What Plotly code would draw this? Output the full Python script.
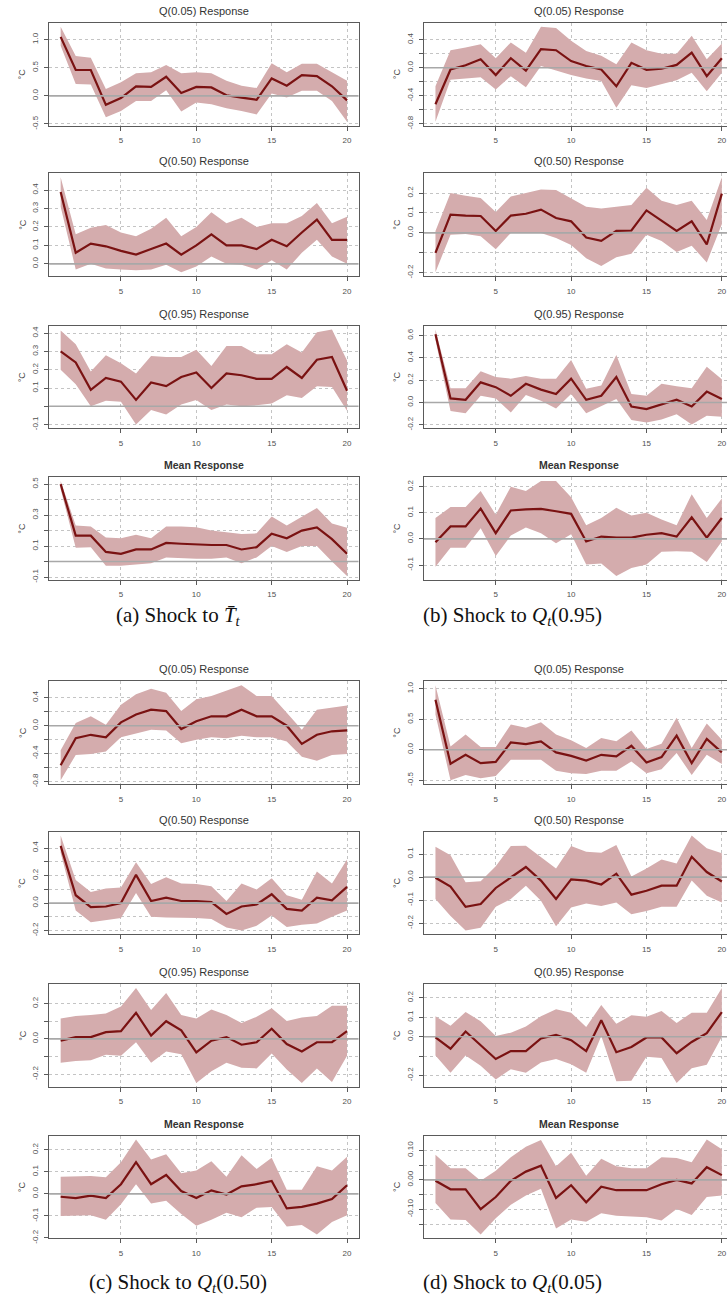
import plotly.graph_objects as go

W, H = 727, 1310

horizon = [1, 2, 3, 4, 5, 6, 7, 8, 9, 10, 11, 12, 13, 14, 15, 16, 17, 18, 19, 20]
x_tickvals = [5, 10, 15, 20]
x_ticktext = ["5", "10", "15", "20"]

panel_titles = ["Q(0.05) Response", "Q(0.50) Response", "Q(0.95) Response", "Mean Response"]
captions = [
    "(a) Shock to <i>T\u0304</i><sub><i>t</i></sub>",
    "(b) Shock to <i>Q</i><sub><i>t</i></sub>(0.95)",
    "(c) Shock to <i>Q</i><sub><i>t</i></sub>(0.50)",
    "(d) Shock to <i>Q</i><sub><i>t</i></sub>(0.05)",
]

# ---------------- (a) Shock to T-bar ----------------
a_q05_irf = [1.05, 0.46, 0.46, -0.16, -0.04, 0.17, 0.16, 0.34, 0.05, 0.16, 0.15, 0.01, -0.03, -0.07, 0.31, 0.18, 0.37, 0.35, 0.17, -0.08]
a_q05_hi = [1.23, 0.71, 0.68, 0.12, 0.24, 0.40, 0.42, 0.55, 0.40, 0.42, 0.40, 0.27, 0.18, 0.14, 0.58, 0.42, 0.57, 0.57, 0.42, 0.27]
a_q05_lo = [0.89, 0.21, 0.20, -0.38, -0.27, -0.09, -0.09, 0.10, -0.28, -0.12, -0.15, -0.22, -0.27, -0.33, 0.04, -0.03, 0.09, 0.09, -0.09, -0.46]
a_q05_ticks = [-0.5, 0.0, 0.5, 1.0]
a_q05_labels = ["-0.5", "0.0", "0.5", "1.0"]
a_q05_minor = []

a_q50_irf = [0.39, 0.06, 0.11, 0.095, 0.07, 0.05, 0.08, 0.11, 0.05, 0.10, 0.16, 0.10, 0.10, 0.08, 0.13, 0.095, 0.17, 0.24, 0.13, 0.13]
a_q50_hi = [0.47, 0.16, 0.195, 0.21, 0.17, 0.15, 0.19, 0.25, 0.15, 0.20, 0.28, 0.22, 0.25, 0.20, 0.22, 0.22, 0.26, 0.33, 0.22, 0.255]
a_q50_lo = [0.31, -0.03, 0.0, -0.025, -0.03, -0.035, -0.03, -0.005, -0.045, -0.015, 0.04, 0.0, -0.005, -0.03, 0.02, -0.03, 0.06, 0.13, 0.04, 0.0]
a_q50_ticks = [0.0, 0.1, 0.2, 0.3, 0.4]
a_q50_labels = ["0.0", "0.1", "0.2", "0.3", "0.4"]
a_q50_minor = []

a_q95_irf = [0.30, 0.24, 0.09, 0.155, 0.135, 0.035, 0.13, 0.11, 0.16, 0.185, 0.10, 0.18, 0.17, 0.15, 0.15, 0.215, 0.155, 0.255, 0.27, 0.085]
a_q95_hi = [0.415, 0.34, 0.19, 0.28, 0.235, 0.18, 0.275, 0.27, 0.27, 0.31, 0.22, 0.33, 0.33, 0.285, 0.285, 0.34, 0.295, 0.405, 0.42, 0.25]
a_q95_lo = [0.20, 0.12, 0.0, 0.03, 0.025, -0.10, -0.02, -0.045, 0.01, 0.035, -0.02, 0.01, 0.0, 0.005, 0.015, 0.06, 0.045, 0.11, 0.105, -0.025]
a_q95_ticks = [-0.1, 0.1, 0.2, 0.3, 0.4]
a_q95_labels = ["-0.1", "0.1", "0.2", "0.3", "0.4"]
a_q95_minor = [0.0]

a_mean_irf = [0.50, 0.167, 0.167, 0.062, 0.05, 0.078, 0.078, 0.12, 0.115, 0.11, 0.107, 0.107, 0.078, 0.093, 0.18, 0.15, 0.20, 0.22, 0.145, 0.05]
a_mean_hi = [0.52, 0.233, 0.227, 0.155, 0.15, 0.173, 0.15, 0.227, 0.227, 0.222, 0.20, 0.19, 0.178, 0.182, 0.29, 0.233, 0.29, 0.345, 0.245, 0.218]
a_mean_lo = [0.467, 0.089, 0.093, -0.027, -0.027, -0.018, -0.011, 0.027, 0.022, 0.018, 0.018, 0.027, -0.011, 0.027, 0.10, 0.062, 0.10, 0.10, 0.0, -0.093]
a_mean_ticks = [-0.1, 0.1, 0.3, 0.5]
a_mean_labels = ["-0.1", "0.1", "0.3", "0.5"]
a_mean_minor = [0.0, 0.2, 0.4]

# ---------------- (b) Shock to Q(0.95) ----------------
b_q05_irf = [-0.52, -0.025, 0.035, 0.12, -0.105, 0.135, -0.04, 0.265, 0.25, 0.095, 0.025, -0.025, -0.265, 0.07, -0.03, -0.015, 0.04, 0.215, -0.12, 0.135]
b_q05_hi = [-0.265, 0.25, 0.29, 0.335, 0.135, 0.36, 0.215, 0.585, 0.565, 0.385, 0.24, 0.17, 0.05, 0.36, 0.25, 0.20, 0.20, 0.455, 0.12, 0.345]
b_q05_lo = [-0.77, -0.17, -0.155, -0.135, -0.31, -0.12, -0.28, 0.025, -0.04, -0.105, -0.155, -0.19, -0.57, -0.25, -0.29, -0.23, -0.18, -0.07, -0.335, -0.07]
b_q05_ticks = [-0.8, -0.4, 0.0, 0.4]
b_q05_labels = ["-0.8", "-0.4", "0.0", "0.4"]
b_q05_minor = [-0.6, -0.2, 0.2]

b_q50_irf = [-0.10, 0.092, 0.087, 0.085, 0.01, 0.087, 0.096, 0.117, 0.075, 0.058, -0.023, -0.04, 0.01, 0.012, 0.113, 0.061, 0.01, 0.058, -0.058, 0.197]
b_q50_hi = [0.01, 0.20, 0.187, 0.175, 0.105, 0.183, 0.20, 0.218, 0.215, 0.175, 0.131, 0.122, 0.131, 0.14, 0.227, 0.162, 0.14, 0.162, 0.065, 0.28]
b_q50_lo = [-0.197, -0.009, -0.005, -0.017, -0.082, 0.0, 0.005, 0.0, -0.026, -0.061, -0.127, -0.166, -0.122, -0.105, -0.009, -0.04, -0.096, -0.065, -0.148, 0.044]
b_q50_ticks = [-0.2, 0.0, 0.1, 0.2, 0.3]
b_q50_labels = ["-0.2", "0.0", "0.1", "0.2", "0.3"]
b_q50_minor = [-0.1]

b_q95_irf = [0.61, 0.036, 0.024, 0.18, 0.137, 0.06, 0.167, 0.115, 0.076, 0.213, 0.024, 0.06, 0.228, -0.036, -0.06, -0.015, 0.024, -0.036, 0.097, 0.03]
b_q95_hi = [0.653, 0.128, 0.128, 0.28, 0.228, 0.213, 0.237, 0.213, 0.213, 0.38, 0.122, 0.152, 0.425, 0.076, 0.06, 0.167, 0.146, 0.128, 0.32, 0.207]
b_q95_lo = [0.56, -0.076, -0.097, 0.06, 0.036, -0.09, 0.067, 0.015, -0.055, 0.076, -0.097, -0.036, 0.03, -0.158, -0.18, -0.152, -0.106, -0.198, -0.12, -0.128]
b_q95_ticks = [-0.2, 0.0, 0.2, 0.4, 0.6]
b_q95_labels = ["-0.2", "0.0", "0.2", "0.4", "0.6"]
b_q95_minor = []

b_mean_irf = [-0.013, 0.048, 0.048, 0.116, 0.022, 0.109, 0.113, 0.115, 0.106, 0.096, -0.01, 0.009, 0.005, 0.005, 0.016, 0.022, 0.009, 0.083, 0.005, 0.08]
b_mean_hi = [0.08, 0.122, 0.122, 0.184, 0.093, 0.20, 0.184, 0.222, 0.222, 0.16, 0.052, 0.08, 0.119, 0.09, 0.10, 0.074, 0.052, 0.171, 0.08, 0.155]
b_mean_lo = [-0.107, -0.034, -0.034, 0.041, -0.065, 0.013, 0.044, 0.022, -0.017, 0.018, -0.098, -0.094, -0.142, -0.111, -0.098, -0.049, -0.047, -0.049, -0.088, -0.01]
b_mean_ticks = [-0.1, 0.0, 0.1, 0.2]
b_mean_labels = ["-0.1", "0.0", "0.1", "0.2"]
b_mean_minor = []

# ---------------- (c) Shock to Q(0.50) ----------------
c_q05_irf = [-0.565, -0.18, -0.13, -0.165, 0.048, 0.16, 0.23, 0.21, -0.048, 0.063, 0.135, 0.135, 0.23, 0.135, 0.135, 0.0, -0.26, -0.13, -0.08, -0.068]
c_q05_hi = [-0.35, 0.04, 0.135, 0.015, 0.30, 0.45, 0.53, 0.47, 0.21, 0.38, 0.425, 0.50, 0.58, 0.425, 0.425, 0.185, -0.058, 0.23, 0.256, 0.29]
c_q05_lo = [-0.78, -0.42, -0.405, -0.37, -0.165, -0.106, -0.058, -0.068, -0.25, -0.20, -0.165, -0.18, -0.145, -0.165, -0.165, -0.227, -0.445, -0.50, -0.42, -0.405]
c_q05_ticks = [-0.8, -0.4, 0.0, 0.4]
c_q05_labels = ["-0.8", "-0.4", "0.0", "0.4"]
c_q05_minor = [-0.6, -0.2, 0.2]

c_q50_irf = [0.415, 0.057, -0.03, -0.025, 0.0, 0.205, 0.015, 0.04, 0.015, 0.015, 0.007, -0.079, -0.025, -0.01, 0.064, -0.042, -0.054, 0.04, 0.02, 0.118]
c_q50_hi = [0.49, 0.168, 0.081, 0.106, 0.114, 0.296, 0.138, 0.188, 0.143, 0.138, 0.123, 0.015, 0.143, 0.099, 0.18, 0.057, 0.025, 0.23, 0.143, 0.316]
c_q50_lo = [0.365, -0.054, -0.14, -0.123, -0.109, 0.074, -0.099, -0.104, -0.104, -0.109, -0.116, -0.178, -0.20, -0.165, -0.091, -0.173, -0.158, -0.148, -0.099, -0.054]
c_q50_ticks = [-0.2, 0.0, 0.2, 0.4]
c_q50_labels = ["-0.2", "0.0", "0.2", "0.4"]
c_q50_minor = [-0.1, 0.1, 0.3]

c_q95_irf = [-0.01, 0.01, 0.01, 0.038, 0.044, 0.148, 0.019, 0.10, 0.048, -0.077, -0.01, 0.01, -0.033, -0.019, 0.058, -0.029, -0.071, -0.019, -0.019, 0.044]
c_q95_hi = [0.115, 0.129, 0.135, 0.144, 0.183, 0.288, 0.163, 0.26, 0.135, 0.115, 0.167, 0.135, 0.09, 0.125, 0.173, 0.102, 0.121, 0.129, 0.187, 0.187]
c_q95_lo = [-0.135, -0.125, -0.121, -0.09, -0.096, -0.019, -0.135, -0.071, -0.087, -0.25, -0.183, -0.135, -0.163, -0.167, -0.083, -0.173, -0.25, -0.167, -0.244, -0.096]
c_q95_ticks = [-0.2, 0.0, 0.2]
c_q95_labels = ["-0.2", "0.0", "0.2"]
c_q95_minor = [-0.1, 0.1]

c_mean_irf = [-0.013, -0.019, -0.008, -0.019, 0.044, 0.144, 0.044, 0.086, 0.013, -0.019, 0.016, -0.003, 0.034, 0.044, 0.059, -0.066, -0.059, -0.044, -0.023, 0.039]
c_mean_hi = [0.078, 0.078, 0.081, 0.075, 0.144, 0.247, 0.156, 0.18, 0.094, 0.106, 0.148, 0.078, 0.175, 0.113, 0.164, 0.019, 0.019, 0.125, 0.106, 0.169]
c_mean_lo = [-0.10, -0.10, -0.097, -0.117, -0.047, 0.044, -0.044, -0.031, -0.091, -0.144, -0.117, -0.086, -0.106, -0.0625, -0.059, -0.148, -0.141, -0.184, -0.128, -0.097]
c_mean_ticks = [-0.2, -0.1, 0.0, 0.1, 0.2]
c_mean_labels = ["-0.2", "-0.1", "0.0", "0.1", "0.2"]
c_mean_minor = []

# ---------------- (d) Shock to Q(0.05) ----------------
d_q05_irf = [0.82, -0.23, -0.083, -0.22, -0.20, 0.12, 0.094, 0.138, -0.044, -0.10, -0.177, -0.083, -0.11, 0.066, -0.21, -0.12, 0.232, -0.22, 0.177, -0.044]
d_q05_hi = [1.06, 0.055, 0.25, 0.044, 0.044, 0.414, 0.36, 0.453, 0.25, 0.155, 0.028, 0.193, 0.138, 0.315, 0.011, 0.10, 0.525, 0.028, 0.43, 0.166]
d_q05_lo = [0.58, -0.50, -0.414, -0.47, -0.43, -0.166, -0.166, -0.166, -0.343, -0.387, -0.40, -0.343, -0.343, -0.193, -0.387, -0.32, -0.055, -0.414, -0.083, -0.232]
d_q05_ticks = [-0.5, 0.0, 0.5, 1.0]
d_q05_labels = ["-0.5", "0.0", "0.5", "1.0"]
d_q05_minor = []

d_q50_irf = [-0.003, -0.041, -0.129, -0.117, -0.047, -0.003, 0.044, -0.015, -0.095, -0.01, -0.015, -0.032, 0.015, -0.076, -0.059, -0.037, -0.037, 0.088, 0.022, -0.019]
d_q50_hi = [0.132, 0.095, -0.022, -0.018, 0.047, 0.135, 0.136, 0.085, 0.037, 0.135, 0.11, 0.106, 0.139, 0.003, 0.037, 0.076, 0.059, 0.18, 0.125, 0.103]
d_q50_lo = [-0.095, -0.169, -0.232, -0.22, -0.129, -0.095, -0.037, -0.103, -0.213, -0.132, -0.114, -0.125, -0.11, -0.161, -0.147, -0.129, -0.129, -0.015, -0.081, -0.11]
d_q50_ticks = [-0.2, -0.1, 0.0, 0.1, 0.2]
d_q50_labels = ["-0.2", "-0.1", "0.0", "0.1", "0.2"]
d_q50_minor = []

d_q95_irf = [-0.004, -0.062, 0.027, -0.044, -0.115, -0.074, -0.074, -0.009, 0.009, -0.018, -0.074, 0.085, -0.08, -0.053, -0.004, -0.004, -0.085, -0.027, 0.018, 0.127]
d_q95_hi = [0.106, 0.057, 0.127, 0.08, 0.004, 0.021, 0.053, 0.106, 0.142, 0.124, 0.05, 0.163, 0.067, 0.11, 0.103, 0.133, 0.071, 0.124, 0.124, 0.251]
d_q95_lo = [-0.097, -0.186, -0.097, -0.15, -0.221, -0.168, -0.186, -0.133, -0.115, -0.142, -0.186, 0.004, -0.23, -0.227, -0.103, -0.11, -0.239, -0.163, -0.145, 0.0]
d_q95_ticks = [-0.2, 0.0, 0.1, 0.2]
d_q95_labels = ["-0.2", "0.0", "0.1", "0.2"]
d_q95_minor = [-0.1]

d_mean_irf = [-0.003, -0.032, -0.032, -0.099, -0.058, -0.003, 0.028, 0.048, -0.061, -0.018, -0.076, -0.023, -0.035, -0.035, -0.035, -0.015, 0.0, -0.012, 0.043, 0.016]
d_mean_hi = [0.085, 0.039, 0.039, -0.003, 0.031, 0.077, 0.112, 0.135, 0.046, 0.092, 0.014, 0.072, 0.046, 0.039, 0.039, 0.077, 0.074, 0.06, 0.137, 0.104]
d_mean_lo = [-0.078, -0.134, -0.136, -0.185, -0.13, -0.084, -0.053, -0.03, -0.165, -0.134, -0.142, -0.113, -0.122, -0.125, -0.127, -0.138, -0.099, -0.119, -0.058, -0.053]
d_mean_ticks = [-0.20, -0.10, 0.0, 0.10]
d_mean_labels = ["-0.20", "-0.10", "0.00", "0.10"]
d_mean_minor = [-0.15, -0.05, 0.05]

groups = [
    [(a_q05_irf, a_q05_lo, a_q05_hi, a_q05_ticks, a_q05_labels, a_q05_minor),
     (a_q50_irf, a_q50_lo, a_q50_hi, a_q50_ticks, a_q50_labels, a_q50_minor),
     (a_q95_irf, a_q95_lo, a_q95_hi, a_q95_ticks, a_q95_labels, a_q95_minor),
     (a_mean_irf, a_mean_lo, a_mean_hi, a_mean_ticks, a_mean_labels, a_mean_minor)],
    [(b_q05_irf, b_q05_lo, b_q05_hi, b_q05_ticks, b_q05_labels, b_q05_minor),
     (b_q50_irf, b_q50_lo, b_q50_hi, b_q50_ticks, b_q50_labels, b_q50_minor),
     (b_q95_irf, b_q95_lo, b_q95_hi, b_q95_ticks, b_q95_labels, b_q95_minor),
     (b_mean_irf, b_mean_lo, b_mean_hi, b_mean_ticks, b_mean_labels, b_mean_minor)],
    [(c_q05_irf, c_q05_lo, c_q05_hi, c_q05_ticks, c_q05_labels, c_q05_minor),
     (c_q50_irf, c_q50_lo, c_q50_hi, c_q50_ticks, c_q50_labels, c_q50_minor),
     (c_q95_irf, c_q95_lo, c_q95_hi, c_q95_ticks, c_q95_labels, c_q95_minor),
     (c_mean_irf, c_mean_lo, c_mean_hi, c_mean_ticks, c_mean_labels, c_mean_minor)],
    [(d_q05_irf, d_q05_lo, d_q05_hi, d_q05_ticks, d_q05_labels, d_q05_minor),
     (d_q50_irf, d_q50_lo, d_q50_hi, d_q50_ticks, d_q50_labels, d_q50_minor),
     (d_q95_irf, d_q95_lo, d_q95_hi, d_q95_ticks, d_q95_labels, d_q95_minor),
     (d_mean_irf, d_mean_lo, d_mean_hi, d_mean_ticks, d_mean_labels, d_mean_minor)],
]

# ---------------- layout geometry (pixels) ----------------
BAND = "rgb(212,172,173)"
LINE = "#7a1212"
ZERO = "#a8a8a8"
GRID = "#c4c4c4"
BOX = "#5a5a5a"
TXT = "#505050"

col_box = {0: (49.2, 358.5), 1: (424.0, 733.3)}   # box left/right px
px_per_unit = (358.5 - 49.2) / 20.52
row_tops_top = [23, 174, 327, 479]
box_h = 103
group_shift = 661
caption_y = [618, 1288]
caption_x = [178, 512]

fig = go.Figure()
annotations = []
shapes = []


def py(v):
    return 1 - v / H


k = 0
for g, panels in enumerate(groups):
    col = g % 2
    shift = group_shift if g >= 2 else 0
    left, right = col_box[col]
    right_clip = min(right, W)
    xr = [0.24, 0.24 + (right_clip - left) / px_per_unit]
    for r, (irf, lo, hi, tv, tt, mv) in enumerate(panels):
        k += 1
        xa = "x" if k == 1 else f"x{k}"
        ya = "y" if k == 1 else f"y{k}"
        top = row_tops_top[r] + shift
        bot = top + box_h
        vmin = min(min(lo), min(irf))
        vmax = max(max(hi), max(irf))
        pad = 0.04 * (vmax - vmin)
        yr = [vmin - pad, vmax + pad]

        fig.add_trace(go.Scatter(x=horizon, y=hi, mode="lines", line=dict(width=0, color=BAND),
                                 xaxis=xa, yaxis=ya, showlegend=False, hoverinfo="skip"))
        fig.add_trace(go.Scatter(x=horizon, y=lo, mode="lines", line=dict(width=0, color=BAND),
                                 fill="tonexty", fillcolor=BAND,
                                 xaxis=xa, yaxis=ya, showlegend=False, hoverinfo="skip"))
        fig.add_trace(go.Scatter(x=horizon, y=irf, mode="lines", line=dict(width=2.2, color=LINE),
                                 xaxis=xa, yaxis=ya, showlegend=False))

        xkey = "xaxis" if k == 1 else f"xaxis{k}"
        ykey = "yaxis" if k == 1 else f"yaxis{k}"
        yaxis_cfg = dict(domain=[py(bot), py(top)], range=yr, anchor=xa,
                         tickmode="array", tickvals=tv, ticktext=tt, tickangle=-90,
                         ticks="outside", ticklen=4, tickcolor=BOX,
                         tickfont=dict(size=8, color=TXT, family="Liberation Sans"),
                         ticklabelstandoff=3,
                         showline=True, linecolor=BOX, linewidth=1, mirror=(col == 0),
                         showgrid=True, gridcolor=GRID, griddash="dot", gridwidth=1,
                         zeroline=False, fixedrange=True)
        if mv:
            yaxis_cfg["minor"] = dict(tickmode="array", tickvals=mv, ticks="outside", ticklen=4,
                                      tickcolor=BOX, showgrid=True, gridcolor=GRID,
                                      griddash="dot", gridwidth=1)
        fig.update_layout(**{
            xkey: dict(domain=[left / W, right_clip / W], range=xr, anchor=ya,
                       tickmode="array", tickvals=x_tickvals, ticktext=x_ticktext,
                       ticks="outside", ticklen=4, tickcolor=BOX,
                       tickfont=dict(size=8, color=TXT, family="Liberation Sans"),
                       ticklabelstandoff=3, ticklabeloverflow="allow",
                       showline=True, linecolor=BOX, linewidth=1, mirror=True,
                       showgrid=True, gridcolor=GRID, griddash="dot", gridwidth=1,
                       zeroline=False, fixedrange=True),
            ykey: yaxis_cfg,
        })
        shapes.append(dict(type="line", xref=f"{xa} domain", yref=ya, x0=0, x1=1, y0=0, y1=0,
                           line=dict(color=ZERO, width=1.6), layer="above"))
        title = panel_titles[r]
        if r == 3:
            ttext, tsize = f"<b>{title}</b>", 10.5
        else:
            ttext, tsize = title, 11
        annotations.append(dict(text=ttext,
                                x=(left + right) / 2 / W, y=py(top - 12), xref="paper", yref="paper",
                                showarrow=False, xanchor="center", yanchor="middle",
                                font=dict(size=tsize, color="#333333", family="Liberation Sans")))
        annotations.append(dict(text="°C", x=(left - 27) / W, y=py((top + bot) / 2),
                                xref="paper", yref="paper", showarrow=False, textangle=-90,
                                xanchor="center", yanchor="middle",
                                font=dict(size=9, color="#444444", family="Liberation Sans")))
    annotations.append(dict(text=captions[g], x=caption_x[col] / W,
                            y=py(caption_y[g // 2]), xref="paper", yref="paper",
                            showarrow=False, xanchor="center", yanchor="middle",
                            font=dict(size=21, color="#111111", family="Liberation Serif")))

fig.update_layout(width=W, height=H, margin=dict(l=0, r=0, t=0, b=0),
                  paper_bgcolor="white", plot_bgcolor="white",
                  annotations=annotations, shapes=shapes, showlegend=False)

fig.write_html("out.html",
               config={"displayModeBar": False, "staticPlot": True},
               post_script="document.body.style.margin='0';document.body.style.overflow='hidden';")
